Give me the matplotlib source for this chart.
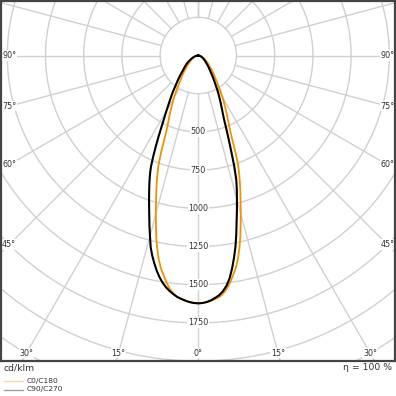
import numpy as np
import matplotlib
matplotlib.use('Agg')
import matplotlib.pyplot as plt
from matplotlib.lines import Line2D

# ---- data (cd/klm), gamma in degrees ----
gamma = [0, 1, 2, 3, 4, 5, 6, 7, 8, 9, 10, 11, 12, 13, 14, 15, 16, 17, 18, 19, 20,
         21, 22, 23, 24, 25, 26, 27, 28, 29, 30, 32.5, 35, 37.5, 40, 42.5, 45,
         50, 55, 60, 65, 70, 75, 80, 85, 90]
c0 = [1622, 1620, 1615, 1607, 1597, 1587, 1565, 1537, 1500, 1455, 1412, 1358, 1292, 1222,
      1145, 1075, 1005, 942, 882, 822, 762, 680, 595, 532, 490, 455, 425, 395, 368, 342,
      318, 262, 212, 180, 155, 132, 112, 85, 65, 50, 38, 27, 18, 10, 4, 0]
c180 = [1622, 1620, 1615, 1607, 1597, 1587, 1565, 1537, 1500, 1455, 1412, 1358, 1292, 1222,
        1145, 1075, 1005, 942, 882, 822, 762, 680, 595, 532, 490, 455, 425, 395, 368, 342,
        318, 262, 212, 180, 155, 132, 112, 85, 65, 50, 38, 27, 18, 10, 4, 0]
c90 = [1622, 1620, 1614, 1604, 1590, 1574, 1550, 1518, 1472, 1412, 1345, 1275, 1195, 1115,
       1045, 977, 915, 850, 760, 660, 578, 508, 448, 410, 378, 350, 324, 300, 277, 255,
       233, 190, 158, 130, 110, 95, 80, 60, 46, 35, 26, 18, 12, 7, 3, 0]
c270 = [1622, 1620, 1615, 1607, 1597, 1586, 1570, 1552, 1530, 1503, 1470, 1432, 1388, 1342,
        1290, 1222, 1160, 1098, 1042, 990, 940, 893, 846, 795, 728, 660, 598, 540, 490, 450,
        415, 345, 290, 240, 205, 175, 148, 115, 92, 68, 50, 36, 25, 15, 7, 0]

radial_labels = [500, 750, 1000, 1250, 1500, 1750]
grid_radii = [250, 500, 750, 1000, 1250, 1500, 1750, 2000, 2250, 2500]
grid_angles = list(range(-180, 181, 15))
angle_labels = [0, 15, 30, 45, 60, 75, 90]
unit_label = 'cd/klm'
eta_label = 'η = 100 %'
legend_labels = ['C0/C180', 'C90/C270']

ORANGE = '#f39200'
GRID = '#d0d0d0'
TXT = '#333333'

W = H = 396
k = 38.2 / 250.0  # px per cd/klm
cx_px, cy_px = 198.3, 55.5
box_l, box_r, box_t, box_b = 1, 395, 1, 361

fig = plt.figure(figsize=(W / 100, H / 100), dpi=100)
ax = fig.add_axes([box_l / W, (H - box_b) / H, (box_r - box_l) / W, (box_b - box_t) / H])
xmin = -(cx_px - box_l) / k
xmax = (box_r - cx_px) / k
ymax = (cy_px - box_t) / k
ymin = -(box_b - cy_px) / k
ax.set_xlim(xmin, xmax)
ax.set_ylim(ymin, ymax)
ax.set_xticks([])
ax.set_yticks([])
for s in ax.spines.values():
    s.set_color('#444444')
    s.set_linewidth(1.6)
    s.set_zorder(10)

# grid circles
t = np.linspace(0, 2 * np.pi, 721)
for r in grid_radii:
    ax.plot(r * np.sin(t), r * np.cos(t), color=GRID, lw=1.0, zorder=1)
# radial lines
for a in grid_angles:
    ar = np.deg2rad(a)
    ax.plot([250 * np.sin(ar), 4000 * np.sin(ar)], [-250 * np.cos(ar), -4000 * np.cos(ar)],
            color=GRID, lw=1.0, zorder=1)

# curves
def polar_xy(g, right, left):
    g = np.deg2rad(np.asarray(g, float))
    right = np.asarray(right, float)
    left = np.asarray(left, float)
    xl = -left[::-1] * np.sin(g[::-1])
    yl = -left[::-1] * np.cos(g[::-1])
    xr = right * np.sin(g)
    yr = -right * np.cos(g)
    return np.concatenate([xl, xr[1:]]), np.concatenate([yl, yr[1:]])

xo, yo = polar_xy(gamma, c0, c180)
xb, yb = polar_xy(gamma, c90, c270)
ax.plot(xb, yb, color='black', lw=1.5, zorder=5, solid_joinstyle='round')
ax.plot(xo, yo, color=ORANGE, lw=1.3, zorder=4, solid_joinstyle='round')

bbox = dict(facecolor='white', edgecolor='none', pad=0.5)
for r in radial_labels:
    ax.text(0, -r, f'{r}', ha='center', va='center', fontsize=5.8, color=TXT, bbox=bbox, zorder=3)

# angle labels
side_in = 7.5 / k
bot_in = 8.0 / k
for a in angle_labels:
    for sgn in ([1] if a == 0 else [-1, 1]):
        ar = np.deg2rad(a)
        X = (xmax - side_in)
        if a > 0 and -X / np.tan(ar) > ymin + bot_in:
            x = sgn * X
            y = -X / np.tan(ar) if a < 90 else 0
        else:
            y = ymin + bot_in
            x = sgn * (-y) * np.tan(ar)
        ax.text(x, y, f'{a}°', ha='center', va='center', fontsize=5.8, color=TXT,
                bbox=bbox, zorder=3)

fig.text(4 / W, 1 - 368 / H, unit_label, ha='left', va='center', fontsize=6.7, color=TXT)
fig.text(392 / W, 1 - 368 / H, eta_label, ha='right', va='center', fontsize=6.7, color=TXT)

leg_colors = ['#fbd3a6', '#999999']
for i, (lab, col) in enumerate(zip(legend_labels, leg_colors)):
    yy = 1 - (381 + 8.5 * i) / H
    fig.add_artist(Line2D([3.5 / W, 23 / W], [yy, yy], color=col, lw=0.9, transform=fig.transFigure))
    fig.text(27 / W, yy, lab, ha='left', va='center', fontsize=5.4, color=TXT)

fig.savefig('out.png', dpi=100)
